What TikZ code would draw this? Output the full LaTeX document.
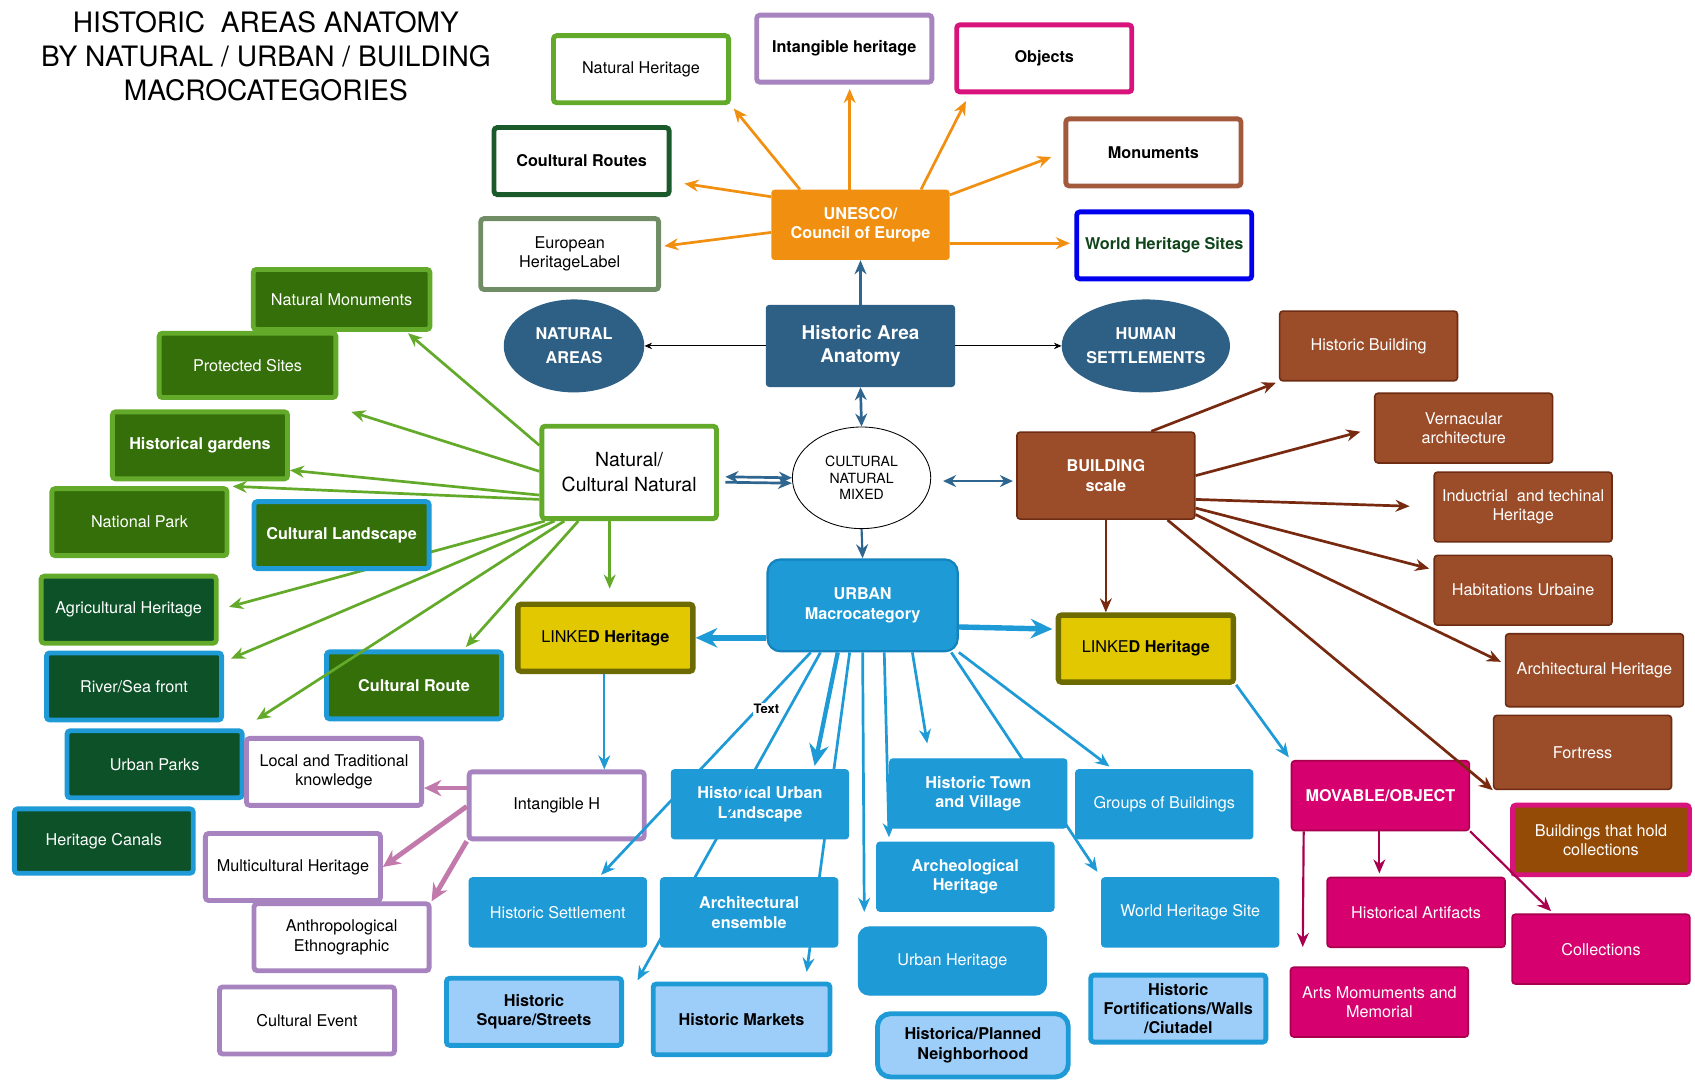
\documentclass[tikz,border=0pt]{standalone}
\usepackage{fontspec}
\setmainfont{TeX Gyre Heros}
\usetikzlibrary{arrows.meta,shapes.geometric,backgrounds}

\definecolor{cOrange}{HTML}{F18F10}
\definecolor{cNavy}{HTML}{2E5F85}
\definecolor{cArrNavy}{HTML}{2F6690}
\definecolor{cLGreen}{HTML}{64AA2A}
\definecolor{cMGreen}{HTML}{346F0A}
\definecolor{cDGreen}{HTML}{0C5127}
\definecolor{cRouteGreen}{HTML}{1B5A2B}
\definecolor{cGrayGreen}{HTML}{708D66}
\definecolor{cLilac}{HTML}{A783BF}
\definecolor{cMagenta}{HTML}{D8137C}
\definecolor{cMagFill}{HTML}{D6006E}
\definecolor{cMagLine}{HTML}{A8004F}
\definecolor{cMonBrown}{HTML}{A35A3C}
\definecolor{cBrown}{HTML}{9B4D2A}
\definecolor{cBrownLine}{HTML}{6E2C12}
\definecolor{cBrownArr}{HTML}{782A10}
\definecolor{cHoldFill}{HTML}{944B06}
\definecolor{cBlue}{HTML}{1E9AD6}
\definecolor{cBlueLine}{HTML}{1482BC}
\definecolor{cLightBlue}{HTML}{9DCEF9}
\definecolor{cWHS}{HTML}{0000EE}
\definecolor{cWHStext}{HTML}{10451C}
\definecolor{cYellow}{HTML}{E1C800}
\definecolor{cOlive}{HTML}{6C6A00}
\definecolor{cPink}{HTML}{C27AAC}

\tikzset{
  wh/.style 2 args={minimum width=#1pt, minimum height=#2pt},
  wframe/.style={boxbase, draw=#1, line width=4.5pt, fill=white},
  greenbox/.style 2 args={boxbase, draw=#1, fill=#2, line width=4.5pt, text=white},
  boxbase/.style={rectangle, rounded corners=3pt, align=center, inner sep=2pt, minimum width=162pt, minimum height=62pt}
}

\begin{document}
\begin{tikzpicture}[
    x=1pt, y=-1pt,
    font=\fontsize{15}{18}\selectfont,
    bf/.style={font=\fontsize{15}{18}\selectfont\bfseries},
    brownbox/.style={boxbase, draw=cBrownLine, line width=1.5pt, fill=cBrown, text=white, wh={164.5}{64.5}},
    magbox/.style={boxbase, draw=cMagLine, line width=1.5pt, fill=cMagFill, text=white, wh={164.5}{64.5}},
    urbbox/.style={boxbase, draw=cBlue, line width=1pt, fill=cBlue, text=white, wh={164}{64}},
    lbluebox/.style={boxbase, draw=cBlue, line width=4.5pt, fill=cLightBlue, bf},
    linkbox/.style={boxbase, draw=cOlive, line width=5pt, fill=cYellow},
    oval/.style={ellipse, fill=cNavy, text=white, align=center, inner sep=0pt, wh={130}{86}, font=\fontsize{15}{22}\selectfont\bfseries},
    arr/.style={-{Stealth[length=13pt, width=11pt]}, line width=2.5pt},
    fatarr/.style={-{Stealth[length=20pt, width=18pt]}, line width=5pt},
    thinarr/.style={-{Stealth[length=7pt, width=6pt]}, line width=0.8pt},
    biarr/.style={{Stealth[length=12pt, width=11pt]}-{Stealth[length=12pt, width=11pt]}, line width=2.5pt},
    pinkarr/.style={-{Stealth[length=16pt, width=15pt]}, line width=4.5pt, cPink}
  ]
  \useasboundingbox (0,0) rectangle (1568,1002);
  \begin{scope}[on background layer]
    \fill[white] (0,0) rectangle (1568,1002);
  \end{scope}

  % title
  \node[font=\fontsize{26}{31.5}\selectfont, align=center] (title) at (246,52) {HISTORIC~~AREAS ANATOMY\\BY NATURAL / URBAN / BUILDING\\MACROCATEGORIES};

  % UNESCO cluster
  \node[wframe=cLGreen] (natherit) at (593,64) {Natural Heritage};
  \node[wframe=cLilac, bf] (intang) at (781,45) {Intangible heritage};
  \node[wframe=cMagenta, bf] (objects) at (966,54) {Objects};
  \node[wframe=cRouteGreen, bf] (routes) at (538,149) {Coultural Routes};
  \node[wframe=cMonBrown, bf] (monum) at (1067,141) {Monuments};
  \node[wframe=cGrayGreen, wh={164.5}{65.5}] (eulabel) at (527,235) {European\\HeritageLabel};
  \node[wframe=cWHS, bf, text=cWHStext] (whsites) at (1077,227) {World Heritage Sites};
  \node[boxbase, fill=cOrange, text=white, bf, wh={165}{65}] (unesco) at (796,208) {UNESCO/\\Council of Europe};

  % centre
  \node[boxbase, fill=cNavy, text=white, font=\fontsize{17.5}{22}\selectfont\bfseries, wh={175}{76}] (anatomy) at (796,320) {Historic Area\\Anatomy};
  \node[oval] (natareas) at (531,320) {NATURAL\\AREAS};
  \node[oval] (human) at (1060,320) {HUMAN\\SETTLEMENTS};
  \node[ellipse, draw=black, line width=0.8pt, fill=white, align=center, inner sep=0pt, wh={128}{94}, font=\fontsize{13}{15.5}\selectfont] (mixed) at (797,442) {CULTURAL\\NATURAL\\MIXED};
  \node[wframe=cLGreen, wh={161.5}{85.5}, font=\fontsize{18}{23}\selectfont] (natcult) at (582,437) {Natural/\\Cultural Natural};
  \node[brownbox, bf, wh={164.5}{80.5}] (building) at (1023,440) {BUILDING\\scale};
  \node[boxbase, draw=cBlueLine, line width=2pt, fill=cBlue, text=white, bf, rounded corners=12pt, wh={176}{85}] (urban) at (798,560) {URBAN\\Macrocategory};

  % natural side
  \node[greenbox={cLGreen}{cMGreen}, wh={163.5}{55.5}] (natmon) at (316,277) {Natural Monuments};
  \node[greenbox={cLGreen}{cMGreen}, wh={163.5}{59.5}] (protect) at (229,338) {Protected Sites};
  \node[greenbox={cLGreen}{cMGreen}, bf] (gardens) at (185,412) {Historical gardens};
  \node[greenbox={cLGreen}{cMGreen}] (natpark) at (129,483) {National Park};
  \node[greenbox={cBlue}{cMGreen}, bf] (cland) at (316,495) {Cultural Landscape};
  \node[greenbox={cLGreen}{cDGreen}] (agri) at (119,564) {Agricultural Heritage};
  \node[greenbox={cBlue}{cDGreen}] (river) at (124,635) {River/Sea front};
  \node[greenbox={cBlue}{cMGreen}, bf] (croute) at (383,634) {Cultural Route};
  \node[greenbox={cBlue}{cDGreen}] (uparks) at (143,707) {Urban Parks};
  \node[greenbox={cBlue}{cDGreen}, wh={165.5}{59.5}] (canals) at (96,778) {Heritage Canals};

  % linked
  \node[linkbox] (linkL) at (560,590) {LINKE\textbf{D Heritage}};
  \node[linkbox] (linkR) at (1060,600) {LINKE\textbf{D Heritage}};

  % building side
  \node[brownbox] (histbld) at (1266,320) {Historic Building};
  \node[brownbox] (vernac) at (1354,396) {Vernacular\\architecture};
  \node[brownbox] (induct) at (1409,469) {Inductrial~~and techinal\\Heritage};
  \node[brownbox] (habit) at (1409,546) {Habitations Urbaine};
  \node[brownbox, wh={164.5}{67.5}] (archher) at (1475,620) {Architectural Heritage};
  \node[brownbox, wh={164.5}{68.5}] (fortress) at (1464,696) {Fortress};
  \node[boxbase, draw=cMagenta, line width=4.5pt, fill=cHoldFill, text=white, wh={163.5}{64.5}] (bhold) at (1481,777) {Buildings that hold\\collections};

  % movable
  \node[magbox, bf] (movable) at (1277,736) {MOVABLE/OBJECT};
  \node[magbox] (artifacts) at (1310,844) {Historical Artifacts};
  \node[magbox] (collect) at (1481,878) {Collections};
  \node[magbox] (arts) at (1276,927) {Arts Momuments and\\Memorial};

  % urban
  \node[urbbox, bf] (hul) at (703,744) {Historical Urban\\Landscape};
  \node[urbbox, bf] (htown) at (905,734) {Historic Town\\and Village};
  \node[urbbox] (groups) at (1077,744) {Groups of Buildings};
  \node[urbbox] (hsettle) at (516,844) {Historic Settlement};
  \node[urbbox, bf] (archens) at (693,844) {Architectural\\ensemble};
  \node[urbbox, bf] (archeo) at (893,811) {Archeological\\Heritage};
  \node[urbbox] (whsite) at (1101,844) {World Heritage Site};
  \node[urbbox, rounded corners=10pt, wh={174}{63}] (uherit) at (881,889) {Urban Heritage};
  \node[lbluebox] (hsquare) at (494,936) {Historic\\Square/Streets};
  \node[lbluebox, wh={163.5}{65.5}] (hmarkets) at (686,943) {Historic Markets};
  \node[lbluebox, rounded corners=12pt, wh={176.5}{58.5}] (planned) at (900,967) {Historica/Planned\\Neighborhood};
  \node[lbluebox] (fortif) at (1090,933) {Historic\\Fortifications/Walls\\/Ciutadel};

  % intangible
  \node[wframe=cLilac] (localk) at (309,714) {Local and Traditional\\knowledge};
  \node[wframe=cLilac] (intH) at (515,745) {Intangible H};
  \node[wframe=cLilac] (multi) at (271,802) {Multicultural Heritage};
  \node[wframe=cLilac] (anthro) at (316,867) {Anthropological\\Ethnographic};
  \node[wframe=cLilac] (cevent) at (284,944) {Cultural Event};

  % UNESCO spokes
  \draw[arr, cOrange, shorten >=4pt] ([xshift=-56pt]unesco.north) -- (natherit.south east);
  \draw[arr, cOrange, shorten >=4pt] ([xshift=-10pt]unesco.north) -- ([xshift=5pt]intang.south);
  \draw[arr, cOrange, shorten >=7pt] ([xshift=56pt]unesco.north) -- ([xshift=14pt]objects.south west);
  \draw[arr, cOrange, shorten >=12pt] ([yshift=-5pt]unesco.north east) -- (monum.west);
  \draw[arr, cOrange, shorten >=4pt] ([yshift=-17pt]unesco.east) -- ([yshift=2pt]whsites.west);
  \draw[arr, cOrange, shorten >=12pt] ([yshift=26pt]unesco.west) -- ([yshift=-19pt]routes.east);
  \draw[arr, cOrange, shorten >=3pt] ([yshift=-7pt]unesco.west) -- ([yshift=7pt]eulabel.east);

  % centre links
  \draw[arr, cArrNavy] (anatomy.north) -- (unesco.south);
  \draw[thinarr] (anatomy.west) -- (natareas.east);
  \draw[thinarr] (anatomy.east) -- (human.west);
  \draw[biarr, cArrNavy] (anatomy.south) -- (mixed.north);
  \draw[biarr, cArrNavy, shorten <=6pt] ([yshift=-4pt]natcult.east) -- (mixed.west);
  \draw[arr, cArrNavy, shorten <=6pt] ([yshift=-9pt]natcult.east) -- ([yshift=-5pt]mixed.west);
  \draw[biarr, cArrNavy, shorten <=11pt, shorten >=3pt] ([yshift=-3pt]mixed.east) -- ([yshift=-5pt]building.west);
  \draw[arr, cArrNavy, line width=2pt] (mixed.south) -- (urban.north);

  % natural spokes
  \draw[arr, cLGreen, shorten >=2pt] ([yshift=-20pt]natcult.north west) -- ([xshift=-24pt]natmon.south east);
  \draw[arr, cLGreen] ([yshift=-44pt]natcult.north west) -- ([xshift=12pt, yshift=-11pt]protect.south east);
  \draw[arr, cLGreen] ([yshift=-66pt]natcult.north west) -- ([yshift=-23pt]gardens.east);
  \draw[arr, cLGreen, shorten >=3pt] ([yshift=-70pt]natcult.north west) -- (natpark.north east);
  \begin{scope}[on background layer]
    \draw[arr, cLGreen, shorten >=10pt] ([xshift=5pt]natcult.south west) -- (agri.east);
  \end{scope}
  \draw[arr, cLGreen, shorten >=7pt] ([xshift=14pt]natcult.south west) -- ([yshift=23pt]river.east);
  \draw[arr, cLGreen] ([xshift=23pt]natcult.south west) -- ([xshift=11pt, yshift=8pt]uparks.north east);
  \draw[arr, cLGreen, shorten >=3pt] ([xshift=36pt]natcult.south west) -- ([xshift=46pt]croute.north);
  \draw[arr, cLGreen, shorten >=12pt] ([xshift=-18pt]natcult.south) -- ([xshift=4pt]linkL.north);

  % building spokes
  \draw[arr, cBrownArr, shorten >=3pt] ([xshift=42pt]building.north) -- (histbld.south west);
  \draw[arr, cBrownArr, shorten >=13pt] (building.east) -- (vernac.west);
  \draw[arr, cBrownArr, shorten >=22pt] ([yshift=-22pt]building.east) -- (induct.west);
  \draw[arr, cBrownArr, shorten >=4pt] ([yshift=-30pt]building.east) -- ([yshift=19pt]habit.west);
  \draw[arr, cBrownArr, shorten >=4pt] ([yshift=-36pt]building.east) -- ([yshift=6pt]archher.west);
  \draw[arr, cBrownArr] ([xshift=57pt]building.south) -- (fortress.south west);
  \draw[arr, cBrownArr] (building.south) -- (building.south |- linkR.north);

  % urban spokes
  \draw[fatarr, cBlue] ([yshift=-30pt]urban.west) -- (linkL.east);
  \draw[fatarr, cBlue, shorten >=3pt] ([yshift=-20pt]urban.east) -- ([yshift=18pt]linkR.west);
  \draw[arr, cBlue, line width=1.8pt] ([xshift=-1pt]linkL.south) -- ([xshift=44pt]intH.north);
  \draw[arr, cBlue, shorten >=3pt] (linkR.south east) -- (movable.north west);
  \draw[arr, cBlue, shorten >=3pt] ([xshift=-48pt]urban.south) -- ([xshift=38pt]hsettle.north);
  \draw[arr, cBlue, shorten >=1pt] ([xshift=-39pt]urban.south) -- ([xshift=12pt, yshift=-5pt]hsquare.north east);
  \draw[fatarr, cBlue, line width=4pt, shorten >=3pt] ([xshift=-23pt]urban.south) -- ([xshift=50pt]hul.north);
  \draw[arr, cBlue, shorten >=9pt] ([xshift=-12pt]urban.south) -- ([xshift=59pt]hmarkets.north);
  \draw[arr, cBlue] (urban.south) -- ([xshift=-11pt]archeo.south west);
  \draw[arr, cBlue, shorten >=4pt] ([xshift=20pt]urban.south) -- ([xshift=12pt]archeo.north west);
  \draw[arr, cBlue, shorten >=14pt] ([xshift=46pt]urban.south) -- ([xshift=-45pt]htown.north);
  \draw[arr, cBlue, shorten >=6pt] ([xshift=-7pt]urban.south east) -- (whsite.north west);
  \draw[arr, cBlue, shorten >=4pt] (urban.south east) -- ([xshift=35pt]groups.north west);

  % intangible spokes
  \draw[pinkarr] ([yshift=16pt]intH.west) -- ([yshift=-15pt]localk.east);
  \draw[pinkarr] ([yshift=-1pt]intH.west) -- (multi.east);
  \draw[pinkarr] (intH.south west) -- (anthro.north east);

  % movable spokes
  \draw[arr, cMagLine, line width=2pt, shorten >=18pt] ([xshift=12pt]movable.south west) -- ([xshift=12pt]arts.north west);
  \draw[arr, cMagLine, line width=2pt, shorten >=3pt] ([xshift=-1pt]movable.south) -- ([xshift=-34pt]artifacts.north);
  \draw[arr, cMagLine, line width=2pt, shorten >=3pt] (movable.south east) -- ([xshift=-44pt]collect.north);

  \node[fill=white, inner sep=1pt, font=\fontsize{12}{12}\selectfont\bfseries] (txt) at (709,656) {Text};
\end{tikzpicture}
\end{document}
